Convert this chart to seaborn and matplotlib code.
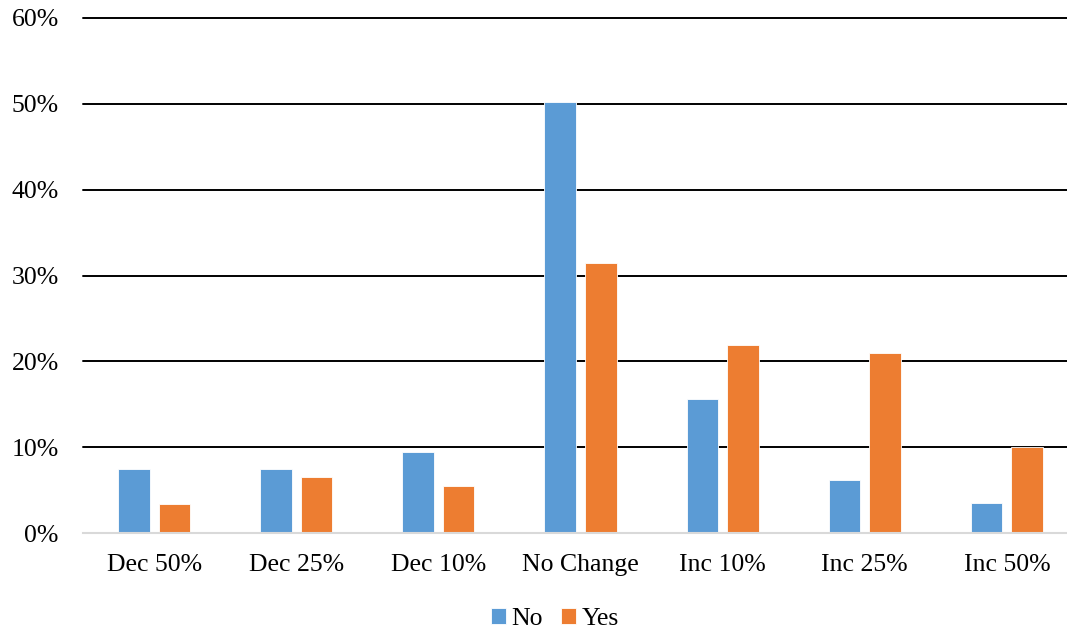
import matplotlib
matplotlib.use("Agg")
import matplotlib.pyplot as plt
from matplotlib.ticker import PercentFormatter
import pandas as pd
import seaborn as sns

categories = ["Dec 50%", "Dec 25%", "Dec 10%", "No Change", "Inc 10%", "Inc 25%", "Inc 50%"]
no_values = [0.074, 0.074, 0.094, 0.502, 0.156, 0.062, 0.035]
yes_values = [0.034, 0.065, 0.055, 0.315, 0.219, 0.210, 0.100]
groups = ["No", "Yes"]
colors = ["#5B9BD5", "#ED7D31"]

df = pd.DataFrame({
    "category": categories * 2,
    "value": no_values + yes_values,
    "group": ["No"] * len(categories) + ["Yes"] * len(categories),
})

sns.set_style("white")
plt.rcParams["font.family"] = ["Liberation Serif", "DejaVu Serif"]
plt.rcParams["text.color"] = "black"
plt.rcParams["xtick.color"] = "black"
plt.rcParams["ytick.color"] = "black"

fig = plt.figure(figsize=(10.67, 6.35), dpi=100)
# plot area runs a little past the right edge, like the source image
ax = fig.add_axes([83 / 1067, 1 - 533 / 635, 995 / 1067, (533 - 18) / 635])

sns.barplot(
    data=df, x="category", y="value", hue="group",
    order=categories, hue_order=groups, palette=colors, saturation=1,
    width=0.57, gap=0.22, edgecolor="white", linewidth=0.6,
    ax=ax,
)

ax.set_xlim(-0.5, len(categories) - 0.5)
ax.set_ylim(0, 0.6)
ax.set_yticks([0, 0.1, 0.2, 0.3, 0.4, 0.5, 0.6])
ax.yaxis.set_major_formatter(PercentFormatter(1.0, decimals=0))
ax.set_axisbelow(True)
ax.yaxis.grid(True, color="black", linewidth=1.4)
for i, gl in enumerate(ax.get_ygridlines()):
    gl.set_clip_on(False)
    if i == 0:
        gl.set_visible(False)

for side in ["top", "right", "left"]:
    ax.spines[side].set_visible(False)
ax.spines["bottom"].set_color("#D9D9D9")
ax.spines["bottom"].set_linewidth(1.5)

ax.set_xlabel("")
ax.set_ylabel("")
ax.tick_params(axis="y", length=0, pad=17.5, labelsize=18.5, labelcolor="black")
ax.tick_params(axis="x", length=0, pad=15, labelsize=18.5, labelcolor="black")

sns.move_legend(
    ax, "center", bbox_to_anchor=(0.52, 0.025), bbox_transform=fig.transFigure,
    ncol=2, frameon=False, title=None, fontsize=18.5,
    handlelength=0.6, handleheight=0.6, handletextpad=0.2, columnspacing=0.7,
    labelcolor="black",
)

fig.savefig("out.png", dpi=100)
